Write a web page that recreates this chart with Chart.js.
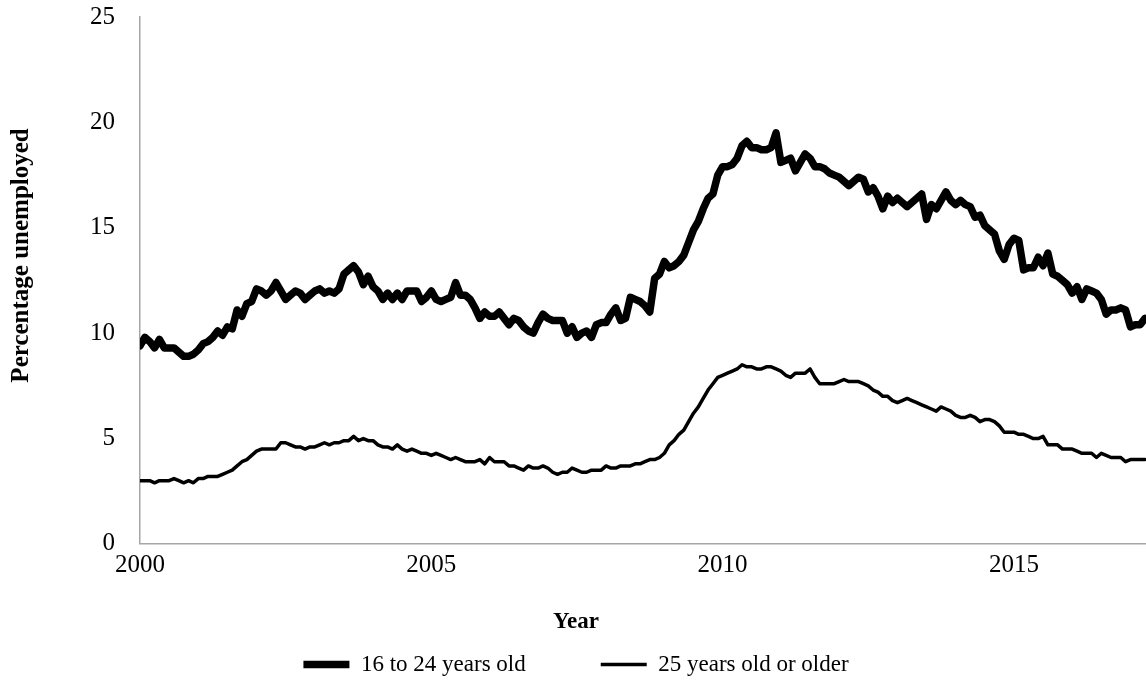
<!DOCTYPE html>
<html>
<head>
<meta charset="utf-8">
<script src="https://cdn.jsdelivr.net/npm/chart.js@4.4.1/dist/chart.umd.min.js"></script>
<style>
  html, body { margin: 0; padding: 0; overflow: hidden; background: #fff; }
  #wrap { width: 1152px; height: 692px; }
</style>
</head>
<body>
<div id="wrap"><canvas id="chart" width="1152" height="692"></canvas></div>
<script>
const startYear = 2000;

// monthly unemployment rate (%), one row per year starting Jan 2000
const youth = [
  9.4, 9.8, 9.6, 9.3, 9.7, 9.3, 9.3, 9.3, 9.1, 8.9, 8.9, 9.0,
  9.2, 9.5, 9.6, 9.8, 10.1, 9.9, 10.3, 10.2, 11.1, 10.8, 11.4, 11.5,
  12.1, 12.0, 11.8, 12.0, 12.4, 12.0, 11.6, 11.8, 12.0, 11.9, 11.6, 11.8,
  12.0, 12.1, 11.9, 12.0, 11.9, 12.1, 12.8, 13.0, 13.2, 12.9, 12.3, 12.7,
  12.2, 12.0, 11.6, 11.9, 11.6, 11.9, 11.6, 12.0, 12.0, 12.0, 11.5, 11.7,
  12.0, 11.6, 11.5, 11.6, 11.7, 12.4, 11.8, 11.8, 11.6, 11.2, 10.7, 11.0,
  10.8, 10.8, 11.0, 10.7, 10.4, 10.7, 10.6, 10.3, 10.1, 10.0, 10.5, 10.9,
  10.7, 10.6, 10.6, 10.6, 10.0, 10.3, 9.8, 10.0, 10.1, 9.8, 10.4, 10.5,
  10.5, 10.9, 11.2, 10.6, 10.7, 11.7, 11.6, 11.5, 11.3, 11.0, 12.6, 12.8,
  13.4, 13.1, 13.2, 13.4, 13.7, 14.3, 14.9, 15.3, 15.9, 16.4, 16.6, 17.5,
  17.9, 17.9, 18.0, 18.3, 18.9, 19.1, 18.8, 18.8, 18.7, 18.7, 18.8, 19.5,
  18.1, 18.2, 18.3, 17.7, 18.1, 18.5, 18.3, 17.9, 17.9, 17.8, 17.6, 17.5,
  17.4, 17.2, 17.0, 17.2, 17.4, 17.3, 16.7, 16.9, 16.5, 15.9, 16.5, 16.2,
  16.4, 16.2, 16.0, 16.2, 16.4, 16.6, 15.4, 16.1, 15.9, 16.3, 16.7, 16.3,
  16.1, 16.3, 16.1, 16.0, 15.5, 15.6, 15.1, 14.9, 14.7, 13.9, 13.5, 14.2,
  14.5, 14.4, 13.0, 13.1, 13.1, 13.6, 13.2, 13.8, 12.8, 12.7, 12.5, 12.3,
  11.9, 12.2, 11.6, 12.1, 12.0, 11.9, 11.6, 10.9, 11.1, 11.1, 11.2, 11.1,
  10.3, 10.4, 10.4, 10.7
];

const adults = [
  3.0, 3.0, 3.0, 2.9, 3.0, 3.0, 3.0, 3.1, 3.0, 2.9, 3.0, 2.9,
  3.1, 3.1, 3.2, 3.2, 3.2, 3.3, 3.4, 3.5, 3.7, 3.9, 4.0, 4.2,
  4.4, 4.5, 4.5, 4.5, 4.5, 4.8, 4.8, 4.7, 4.6, 4.6, 4.5, 4.6,
  4.6, 4.7, 4.8, 4.7, 4.8, 4.8, 4.9, 4.9, 5.1, 4.9, 5.0, 4.9,
  4.9, 4.7, 4.6, 4.6, 4.5, 4.7, 4.5, 4.4, 4.5, 4.4, 4.3, 4.3,
  4.2, 4.3, 4.2, 4.1, 4.0, 4.1, 4.0, 3.9, 3.9, 3.9, 4.0, 3.8,
  4.1, 3.9, 3.9, 3.9, 3.7, 3.7, 3.6, 3.5, 3.7, 3.6, 3.6, 3.7,
  3.6, 3.4, 3.3, 3.4, 3.4, 3.6, 3.5, 3.4, 3.4, 3.5, 3.5, 3.5,
  3.7, 3.6, 3.6, 3.7, 3.7, 3.7, 3.8, 3.8, 3.9, 4.0, 4.0, 4.1,
  4.3, 4.7, 4.9, 5.2, 5.4, 5.8, 6.2, 6.5, 6.9, 7.3, 7.6, 7.9,
  8.0, 8.1, 8.2, 8.3, 8.5, 8.4, 8.4, 8.3, 8.3, 8.4, 8.4, 8.3,
  8.2, 8.0, 7.9, 8.1, 8.1, 8.1, 8.3, 7.9, 7.6, 7.6, 7.6, 7.6,
  7.7, 7.8, 7.7, 7.7, 7.7, 7.6, 7.5, 7.3, 7.2, 7.0, 7.0, 6.8,
  6.7, 6.8, 6.9, 6.8, 6.7, 6.6, 6.5, 6.4, 6.3, 6.5, 6.4, 6.3,
  6.1, 6.0, 6.0, 6.1, 6.0, 5.8, 5.9, 5.9, 5.8, 5.6, 5.3, 5.3,
  5.3, 5.2, 5.2, 5.1, 5.0, 5.0, 5.1, 4.7, 4.7, 4.7, 4.5, 4.5,
  4.5, 4.4, 4.3, 4.3, 4.3, 4.1, 4.3, 4.2, 4.1, 4.1, 4.1, 3.9,
  4.0, 4.0, 4.0, 4.0
];

const seriesNames = ['16 to 24 years old', '25 years old or older'];
const xTicks = [2000, 2005, 2010, 2015];
const yTicks = [0, 5, 10, 15, 20, 25];

const months = youth.map((_, i) => startYear + i / 12);
const serif = "'Liberation Serif', 'Times New Roman', serif";

function toPoints(arr) {
    return arr.map((v, i) => ({ x: months[i], y: v }));
}

new Chart(document.getElementById('chart').getContext('2d'), {
    type: 'line',
    data: {
        datasets: [
            {
                label: seriesNames[0],
                data: toPoints(youth),
                borderColor: '#000',
                borderWidth: 7.5,
                borderJoinStyle: 'round',
                borderCapStyle: 'round',
                pointRadius: 0,
                tension: 0
            },
            {
                label: seriesNames[1],
                data: toPoints(adults),
                borderColor: '#000',
                borderWidth: 3.5,
                borderJoinStyle: 'round',
                borderCapStyle: 'round',
                pointRadius: 0,
                tension: 0
            }
        ]
    },
    options: {
        responsive: false,
        animation: false,
        devicePixelRatio: 1,
        layout: { padding: { top: 17, bottom: 6 } },
        scales: {
            x: {
                type: 'linear',
                min: 2000,
                max: 2017.37,
                grid: { display: false, drawTicks: false },
                border: { display: true, color: '#a6a6a6', width: 1.5 },
                afterBuildTicks: s => { s.ticks = xTicks.map(v => ({ value: v })); },
                ticks: {
                    padding: 7,
                    color: '#000',
                    font: { family: serif, size: 25 },
                    callback: v => String(v)
                }
            },
            y: {
                min: 0,
                max: 25,
                grid: { display: false, drawTicks: false },
                border: { display: true, color: '#a6a6a6', width: 1.5 },
                afterBuildTicks: s => { s.ticks = yTicks.map(v => ({ value: v })); },
                afterFit: s => {
                    s.width = 140;
                    s.paddingTop = 0;   // labels may hang over the top edge
                    s.paddingBottom = 0;
                },
                ticks: {
                    padding: 25,
                    color: '#000',
                    font: { family: serif, size: 25 }
                },
                title: {
                    display: true,
                    text: '        Percentage unemployed',
                    color: '#000',
                    font: { family: serif, size: 25, weight: 'bold' },
                    padding: { top: 7, bottom: 0 }
                }
            }
        },
        plugins: {
            title: {
                display: true,
                position: 'bottom',
                weight: 500,
                text: 'Year',
                color: '#000',
                font: { family: serif, size: 23, weight: 'bold' },
                padding: { top: 20, bottom: 0 }
            },
            legend: {
                position: 'bottom',
                labels: {
                    usePointStyle: true,
                    pointStyle: 'line',
                    pointStyleWidth: 46,
                    padding: 17.5,
                    color: '#000',
                    font: { family: serif, size: 23 },
                    generateLabels: chart => {
                        const items = Chart.defaults.plugins.legend.labels.generateLabels(chart);
                        items[0].text = items[0].text + '          ';
                        return items;
                    }
                }
            },
            tooltip: { enabled: false }
        }
    }
});
</script>
</body>
</html>
